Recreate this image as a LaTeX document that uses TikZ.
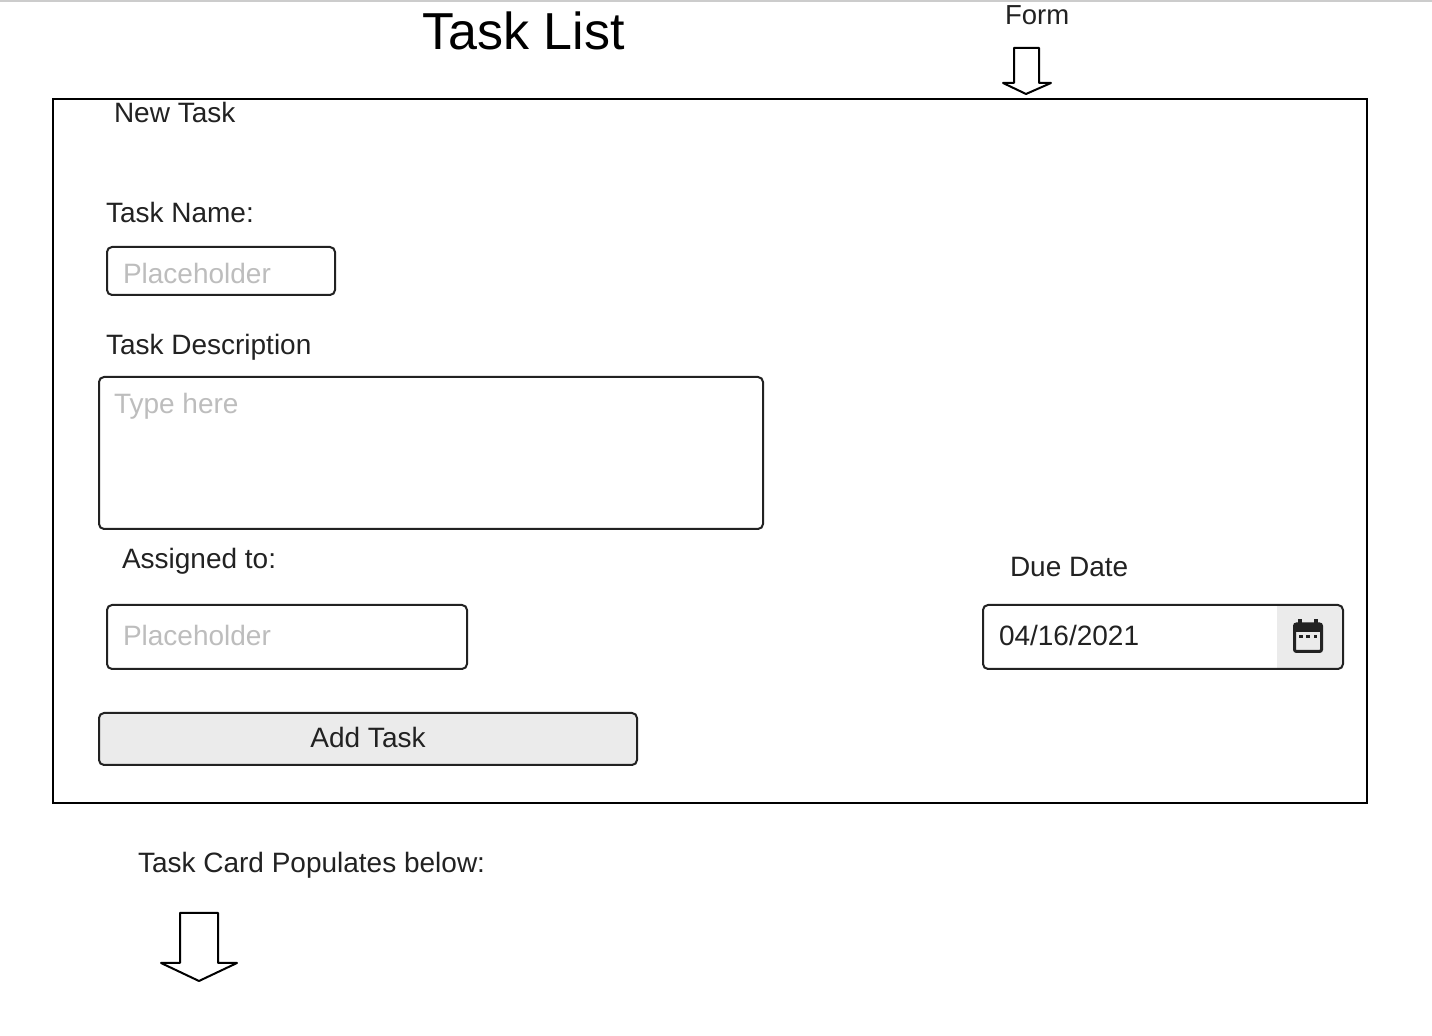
\documentclass[tikz,border=0pt]{standalone}
\usepackage{fontspec}
\setmainfont{Liberation Sans}
\definecolor{ink}{HTML}{222222}
\definecolor{holder}{HTML}{BDBDBD}
\definecolor{panel}{HTML}{EBEBEB}
\newcommand{\bodysize}{\fontsize{14}{16}\selectfont}
\tikzset{
  x=0.5pt,y=-0.5pt,
  lbl/.style={anchor=base west,inner sep=0pt,outer sep=0pt,text=ink,font=\bodysize},
  hold/.style={lbl,text=holder},
  fieldbox/.style={draw=ink,line width=1pt,rounded corners=2.5pt},
  arrowshape/.style={draw=black,line width=1pt,fill=white,line join=round},
}
\begin{document}
\begin{tikzpicture}
\useasboundingbox (0,0) rectangle (1432,1036);
\fill[white] (0,0) rectangle (1432,1036);
\fill[black!20] (0,0) rectangle (1432,2);
% frame
\draw[black,line width=1pt] (53,99) rectangle (1367,803);
% title and captions
\node[anchor=base west,inner sep=0pt,text=black,font=\fontsize{26}{30}\selectfont] (title) at (422,50) {Task List};
\node[lbl,font=\fontsize{13.75}{16}\selectfont] (form) at (1005,25) {Form};
\draw[arrowshape] (1014,48) -- (1039,48) -- (1039,83) -- (1051,83) -- (1026,94) -- (1003,83) -- (1014,83) -- cycle;
\node[lbl] (newtask) at (114,123) {New Task};
% task name
\node[lbl] (namelbl) at (106,223) {Task Name:};
\draw[fieldbox] (107,247) rectangle (335,295);
\node[hold] (nameph) at (123,284) {Placeholder};
% description
\node[lbl] (desclbl) at (106,355) {Task Description};
\draw[fieldbox] (99,377) rectangle (763,529);
\node[hold] (descph) at (114,414) {Type here};
% assigned
\node[lbl] (assignlbl) at (122,569) {Assigned to:};
\draw[fieldbox] (107,605) rectangle (467,669);
\node[hold] (assignph) at (123,646) {Placeholder};
% due date
\node[lbl] (duelbl) at (1010,577) {Due Date};
\fill[panel,rounded corners=2.5pt] (1277,605) -- (1343,605) -- (1343,669) -- (1277,669) -- cycle;
\fill[panel] (1277,605) rectangle (1300,669);
\draw[fieldbox] (983,605) rectangle (1343,669);
\node[lbl] (dateval) at (999,646) {04/16/2021};
% calendar icon
\draw[ink,line width=1.5pt,rounded corners=1pt] (1294.5,624) rectangle (1321.5,651.5);
\fill[ink] (1294,623) rectangle (1322,632);
\fill[ink] (1298,619) rectangle (1302,625);
\fill[ink] (1314,619) rectangle (1318,625);
\fill[ink] (1299,635) rectangle (1302.5,638.5);
\fill[ink] (1306.25,635) rectangle (1309.75,638.5);
\fill[ink] (1313.5,635) rectangle (1317,638.5);
% button
\node[draw=ink,fill=panel,line width=1pt,rounded corners=2.5pt,minimum width=269pt,minimum height=26pt,inner sep=0pt,outer sep=0pt,text=ink,font=\bodysize,text height=9pt,text depth=0pt,anchor=center] (addbtn) at (368,739) {Add Task};
% below
\node[lbl] (populates) at (138,873) {Task Card Populates below:};
\draw[arrowshape] (180,913) -- (218,913) -- (218,963) -- (237,963) -- (199,981) -- (161,963) -- (180,963) -- cycle;
\end{tikzpicture}
\end{document}
